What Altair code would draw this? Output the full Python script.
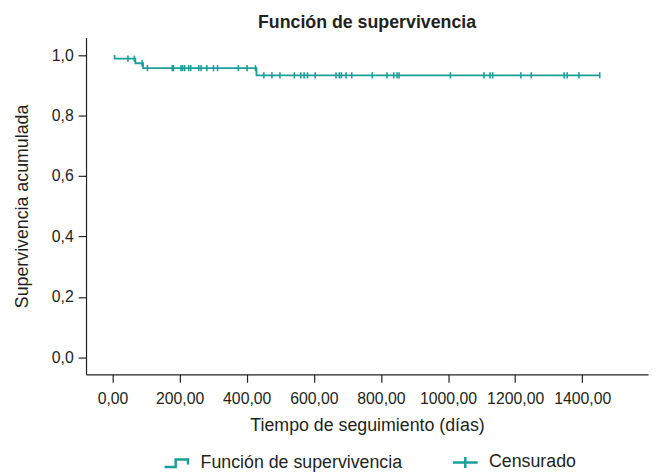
import altair as alt
import pandas as pd

# Kaplan-Meier step curve (time in days, cumulative survival)
curve_time = [6, 6, 68, 91, 429, 1452]
curve_surv = [1.0, 0.988, 0.973, 0.957, 0.933, 0.933]

# Censored observations (days)
censor_time = [46, 65, 88, 104, 178, 181, 204, 209, 215, 227, 233, 257, 264,
               281, 301, 313, 375, 401, 426, 451, 475, 499, 542, 561, 571, 581,
               604, 666, 676, 682, 696, 713, 774, 818, 838, 848, 854, 1007,
               1107, 1125, 1133, 1217, 1248, 1346, 1355, 1390, 1452]

x_ticks = [0, 200, 400, 600, 800, 1000, 1200, 1400]
y_ticks = [0.0, 0.2, 0.4, 0.6, 0.8, 1.0]
legend_names = ["Función de supervivencia", "Censurado"]

TEAL = "#1a9e9a"
INK = "#231f20"
FONT = "Liberation Sans"


def surv_at(t):
    s = 1.0
    for tt, ss in zip(curve_time, curve_surv):
        if tt <= t:
            s = ss
    return s


curve_df = pd.DataFrame({"t": curve_time, "s": curve_surv})
cens_df = pd.DataFrame({"t": censor_time, "s": [surv_at(t) for t in censor_time]})
leg_df = pd.DataFrame({"serie": legend_names, "t": [0, 0], "s": [1.0, 1.0]})

xscale = alt.Scale(domain=[-79, 1596], nice=False, zero=False)
yscale = alt.Scale(domain=[-0.056, 1.058], nice=False, zero=False)

xaxis = alt.Axis(values=x_ticks, title="Tiempo de seguimiento (días)",
                 labelExpr="replace(format(datum.value, '.2f'), '.', ',')",
                 grid=False, tickSize=8, labelPadding=9, titlePadding=10)
yaxis = alt.Axis(values=y_ticks, title="Supervivencia acumulada",
                 labelExpr="replace(format(datum.value, '.1f'), '.', ',')",
                 grid=False, tickSize=8, labelPadding=5, titlePadding=20)

line = alt.Chart(curve_df).mark_line(interpolate="step-after", color=TEAL,
                                     strokeWidth=1.8).encode(
    x=alt.X("t:Q", scale=xscale, axis=xaxis),
    y=alt.Y("s:Q", scale=yscale, axis=yaxis),
)

ticks = alt.Chart(cens_df).mark_point(shape="M0,-1L0,1", size=40, color=TEAL,
                                      filled=False, opacity=1,
                                      strokeWidth=1.6).encode(
    x=alt.X("t:Q", scale=xscale),
    y=alt.Y("s:Q", scale=yscale),
)

step_path = "M-1,0.3L-0.1,0.3L-0.1,-0.3L0.9,-0.3L0.9,0.1"
cross_path = "M-1,0L1,0M0,-0.45L0,0.45"

legend_layer = alt.Chart(leg_df).mark_point(filled=False, color=TEAL,
                                            strokeWidth=2.5).encode(
    x=alt.X("t:Q", scale=xscale),
    y=alt.Y("s:Q", scale=yscale),
    shape=alt.Shape("serie:N",
                    scale=alt.Scale(domain=legend_names,
                                    range=[step_path, cross_path]),
                    legend=alt.Legend(title=None, orient="none",
                                      direction="horizontal",
                                      legendX=78, legendY=416,
                                      padding=0, columnPadding=45,
                                      symbolSize=625, symbolStrokeWidth=2.5,
                                      symbolStrokeColor=TEAL,
                                      symbolFillColor="transparent",
                                      symbolOpacity=1, labelLimit=0,
                                      labelFont=FONT, labelFontSize=18,
                                      labelColor=INK, labelOffset=10)),
    opacity=alt.value(0),
)

chart = alt.layer(line, ticks, legend_layer).properties(
    width=569, height=341,
    title=alt.Title("Función de supervivencia", font=FONT, fontSize=18,
                    fontWeight="bold", color=INK, anchor="middle", offset=6),
    autosize=alt.AutoSizeParams(type="none"),
    padding={"left": 79, "top": 27, "right": 3, "bottom": 100},
).configure_view(stroke=None).configure_axis(
    domainColor=INK, tickColor=INK, labelColor=INK, titleColor=INK,
    labelFont=FONT, titleFont=FONT, labelFontSize=16, titleFontSize=18,
    titleFontWeight="normal", domainWidth=1.2, tickWidth=1.2,
)

chart.save("out.html", embed_options={"renderer": "svg", "actions": False})
